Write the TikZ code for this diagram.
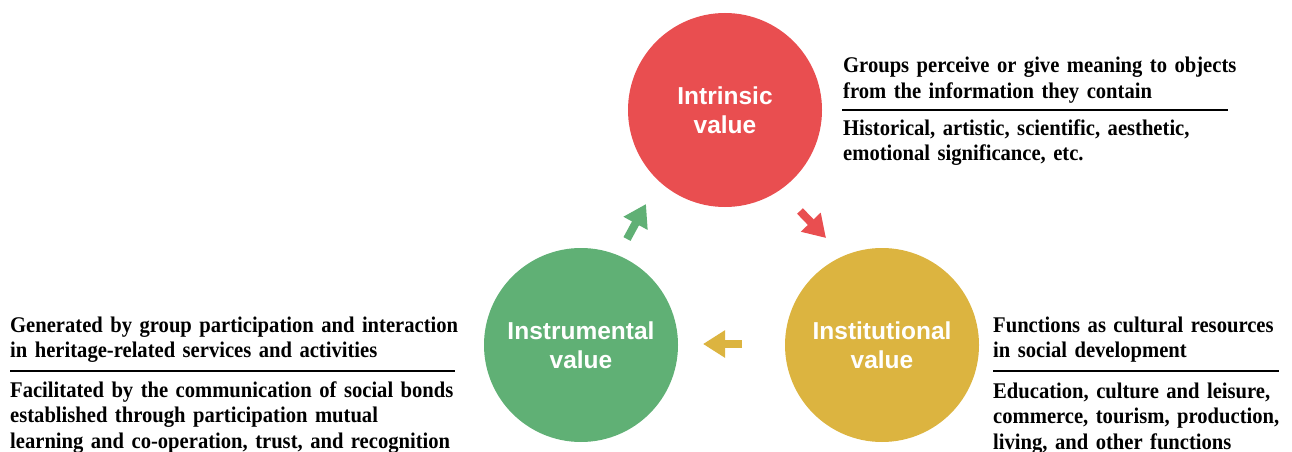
\documentclass[tikz,border=0pt]{standalone}
\usepackage{fontspec}
\setmainfont[FakeStretch=0.92]{Liberation Serif}
\setsansfont{Liberation Sans}
\usetikzlibrary{arrows.meta}
\definecolor{cred}{HTML}{E94E50}
\definecolor{cgrn}{HTML}{60B075}
\definecolor{cyel}{HTML}{DCB440}
\begin{document}
\begin{tikzpicture}[x=1pt,y=-1pt,
  valuecircle/.style={circle, minimum size=194pt, inner sep=0pt, text=white, align=center,
    font=\sffamily\bfseries\fontsize{24.5}{29.5}\selectfont},
  desc/.style={anchor=base west, inner sep=0pt, text width=490pt, align=left,
    font=\bfseries\fontsize{22.4}{25.5}\selectfont},
  rulerline/.style={line width=1.6pt, black},
  flow/.style={line width=8pt, -{Triangle[length=22pt,width=26pt]}}]
\useasboundingbox (0,0) rectangle (1292,452);
% circles
\node[valuecircle, fill=cred] (intr) at (725,110) {Intrinsic\\value};
\node[valuecircle, fill=cyel] (inst) at (882,345) {Institutional\\value};
\node[valuecircle, fill=cgrn] (instr) at (581,345) {Instrumental\\value};
% arrows
\coordinate (g1) at (627,239); \coordinate (g2) at (646,204);
\coordinate (r1) at (800,211); \coordinate (r2) at (826,238);
\coordinate (y1) at (742,344); \coordinate (y2) at (703,344);
\draw[flow, cgrn] (g1) -- (g2);
\draw[flow, cred] (r1) -- (r2);
\draw[flow, cyel] (y1) -- (y2);
% intrinsic texts
\node[desc] (t1a) at (843,73) {Groups perceive or give meaning to objects\\from the information they contain};
\node[desc] (t1b) at (843,135) {Historical, artistic, scientific, aesthetic,\\emotional significance, etc.};
\coordinate (h1a) at (842,110); \coordinate (h1b) at (1228,110);
\draw[rulerline] (h1a) -- (h1b);
% instrumental texts
\node[desc] (t2a) at (10,332) {Generated by group participation and interaction\\in heritage-related services and activities};
\node[desc] (t2b) at (10,397) {Facilitated by the communication of social bonds\\established through participation mutual\\learning and co-operation, trust, and recognition};
\coordinate (h2a) at (10,371); \coordinate (h2b) at (455,371);
\draw[rulerline] (h2a) -- (h2b);
% institutional texts
\node[desc] (t3a) at (993,332) {Functions as cultural resources\\in social development};
\node[desc] (t3b) at (993,398) {Education, culture and leisure,\\commerce, tourism, production,\\living, and other functions};
\coordinate (h3a) at (993,371); \coordinate (h3b) at (1279,371);
\draw[rulerline] (h3a) -- (h3b);
\end{tikzpicture}
\end{document}
